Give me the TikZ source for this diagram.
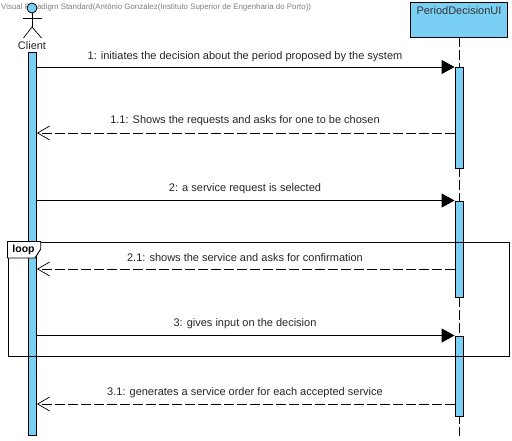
\documentclass[tikz,border=0pt]{standalone}
\usepackage{fontspec}
\setmainfont{Liberation Sans}
\usetikzlibrary{arrows.meta}
\definecolor{barblue}{RGB}{122,207,245}
\tikzset{
  bar/.style={draw=black,fill=barblue,line width=0.9pt,minimum width=8pt,inner sep=0pt,anchor=north},
  msg/.style={line width=0.9pt,-{Triangle[length=13pt,width=14pt]}},
  reply/.style={line width=0.9pt,dash pattern=on 10pt off 3pt,-{Straight Barb[length=12pt,width=14pt,line width=0.7pt]}},
  lifeline/.style={line width=0.9pt,dash pattern=on 10pt off 3pt},
  msglabel/.style={font=\fontsize{11}{13}\selectfont,text=black!85,inner sep=0pt}
}
\begin{document}
\begin{tikzpicture}[x=1pt,y=-1pt]
  \useasboundingbox (0,0) rectangle (512,440);
  \fill[white] (0,0) rectangle (512,440);
  \node[anchor=west,inner sep=0pt,text=black!50,font=\fontsize{7.9}{9}\selectfont] (mark) at (1,7.5)
    {Visual Paradigm Standard(António Gonzalez(Instituto Superior de Engenharia do Porto))};
  % actor
  \node[circle,draw=black,fill=barblue,line width=0.8pt,minimum size=10pt,inner sep=0pt] (head) at (32,8) {};
  \coordinate (hip) at (32,27);
  \coordinate (armL) at (23,18);
  \coordinate (armR) at (41.5,18);
  \coordinate (legL) at (23.5,38);
  \coordinate (legR) at (41.5,38);
  \draw[line width=0.7pt] (head) -- (hip);
  \draw[line width=0.7pt] (armL) -- (armR);
  \draw[line width=0.7pt] (legL) -- (hip) -- (legR);
  \node[msglabel] (client) at (32,46) {Client};
  % lifeline
  \node[draw=black,fill=barblue,line width=0.9pt,minimum width=97pt,minimum height=34.5pt,inner sep=0pt] (ui) at (459,19.75) {};
  \node[msglabel,text=black!80] (uilabel) at (459,11) {PeriodDecisionUI};
  \coordinate (uiend) at (459,436);
  \draw[lifeline] (ui.south) -- (uiend);
  % activations
  \node[bar,minimum height=383pt] (c0) at (32.5,52) {};
  \node[bar,minimum height=101pt] (a1) at (459,67) {};
  \node[bar,minimum height=96pt] (a2) at (459,200.5) {};
  \node[bar,minimum height=80.5pt] (a3) at (459,335.5) {};
  % loop
  \node[draw=black,line width=0.9pt,minimum width=501pt,minimum height=114pt,inner sep=0pt,anchor=north west] (frame) at (7.5,241.5) {};
  \draw[fill=white,line width=0.9pt] (7.5,258) -- (35,258) -- (40.7,249) -- (40.7,241.5) -- (7.5,241.5) -- cycle;
  \node[inner sep=0pt,font=\fontsize{10.5}{12}\bfseries\selectfont] (looplabel) at (23.5,250) {loop};
  % messages
  \coordinate (m1) at (c0.east |- a1.north);
  \coordinate (m2) at (c0.east |- 0,133);
  \coordinate (m3) at (c0.east |- a2.north);
  \coordinate (m4) at (c0.east |- 0,269);
  \coordinate (m5) at (c0.east |- a3.north);
  \coordinate (m6) at (c0.east |- 0,404);
  \draw[msg] (m1) -- (a1.north west);
  \draw[reply] (a1.west |- m2) -- (m2);
  \draw[msg] (m3) -- (a2.north west);
  \draw[reply] (a2.west |- m4) -- (m4);
  \draw[msg] (m5) -- (a3.north west);
  \draw[reply] (a3.west |- m6) -- (m6);
  \node[msglabel] (t1) at (245,57) {1: initiates the decision about the period proposed by the system};
  \node[msglabel] (t2) at (245,121) {1.1: Shows the requests and asks for one to be chosen};
  \node[msglabel] (t3) at (245,189) {2: a service request is selected};
  \node[msglabel] (t4) at (245,258) {2.1: shows the service and asks for confirmation};
  \node[msglabel] (t5) at (245,324) {3: gives input on the decision};
  \node[msglabel] (t6) at (245,393) {3.1: generates a service order for each accepted service};
\end{tikzpicture}
\end{document}
